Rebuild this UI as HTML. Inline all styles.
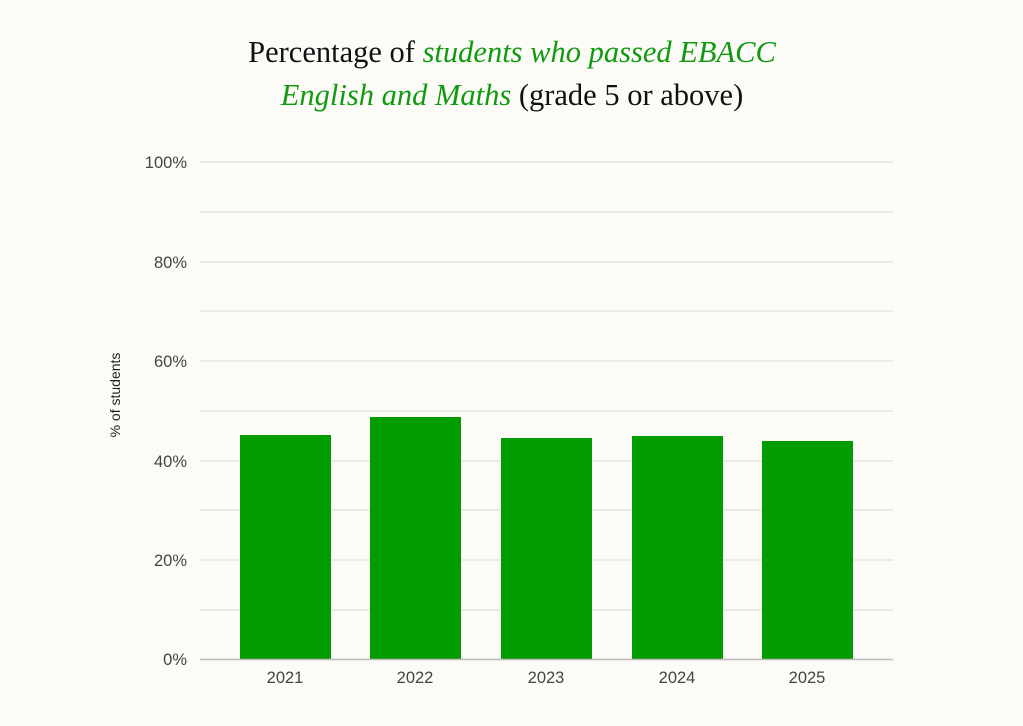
<!DOCTYPE html>
<html><head><meta charset="utf-8"><style>
html,body{margin:0;padding:0;background:#fcfbf7;}
svg{display:block;}
</style></head><body>
<svg width="1023" height="726" xmlns="http://www.w3.org/2000/svg">
<rect width="1023" height="726" fill="#fcfbf7"/>
<g font-family="Liberation Serif, serif" font-size="30.5" text-anchor="middle">
<text x="512" y="62" fill="#111">Percentage of <tspan fill="#109a10" font-style="italic">students who passed EBACC</tspan></text>
<text x="512" y="105"><tspan fill="#109a10" font-style="italic">English and Maths</tspan><tspan fill="#111"> (grade 5 or above)</tspan></text>
</g>
<g stroke="#e2e0dc" stroke-width="1.3">
<line x1="200" x2="893" y1="162" y2="162"/>
<line x1="200" x2="893" y1="212" y2="212"/>
<line x1="200" x2="893" y1="262" y2="262"/>
<line x1="200" x2="893" y1="311" y2="311"/>
<line x1="200" x2="893" y1="361" y2="361"/>
<line x1="200" x2="893" y1="411" y2="411"/>
<line x1="200" x2="893" y1="461" y2="461"/>
<line x1="200" x2="893" y1="510" y2="510"/>
<line x1="200" x2="893" y1="560" y2="560"/>
<line x1="200" x2="893" y1="610" y2="610"/>
</g>
<g fill="#009c00">
<rect x="240" y="435" width="91" height="224"/>
<rect x="370" y="417" width="91" height="242"/>
<rect x="501" y="438" width="91" height="221"/>
<rect x="632" y="436" width="91" height="223"/>
<rect x="762" y="441" width="91" height="218"/>
</g>
<line x1="200" x2="893" y1="659.5" y2="659.5" stroke="#bdbbb7" stroke-width="1.5"/>
<g font-family="Liberation Sans, sans-serif" font-size="16.5" fill="#444" text-anchor="end">
<text x="187" y="168">100%</text>
<text x="187" y="268">80%</text>
<text x="187" y="367">60%</text>
<text x="187" y="467">40%</text>
<text x="187" y="566">20%</text>
<text x="187" y="665">0%</text>
</g>
<g font-family="Liberation Sans, sans-serif" font-size="16.5" fill="#444" text-anchor="middle">
<text x="285" y="683">2021</text>
<text x="415" y="683">2022</text>
<text x="546" y="683">2023</text>
<text x="677" y="683">2024</text>
<text x="807" y="683">2025</text>
</g>
<text transform="translate(120,395) rotate(-90)" font-family="Liberation Sans, sans-serif" font-size="14" fill="#222" text-anchor="middle">% of students</text>
</svg>
</body></html>
